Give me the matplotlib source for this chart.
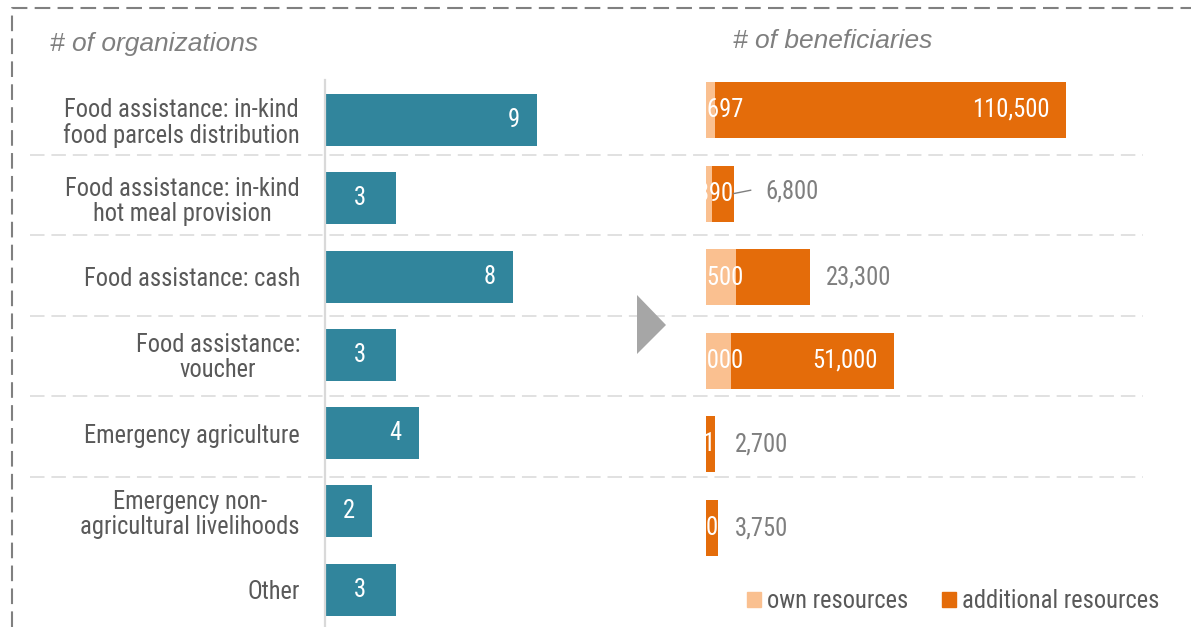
import os
import matplotlib
matplotlib.use('Agg')
import matplotlib.pyplot as plt
from matplotlib import font_manager
from matplotlib.font_manager import FontProperties
from matplotlib.patches import Polygon, Patch
from matplotlib.lines import Line2D

# ---------------- data ----------------
categories = [
    "Food assistance: in-kind\nfood parcels distribution",
    "Food assistance: in-kind\nhot meal provision",
    "Food assistance: cash",
    "Food assistance:\nvoucher",
    "Emergency agriculture",
    "Emergency non-\nagricultural livelihoods",
    "Other",
]
org_counts = [9, 3, 8, 3, 4, 2, 3]
own_resources = [2697, 1890, 9500, 8000, 1, 0]
additional_resources = [110500, 6800, 23300, 51000, 2700, 3750]
legend_labels = ["own resources", "additional resources"]
left_title = "# of organizations"
right_title = "# of beneficiaries"

# ---------------- style ----------------
TEAL = "#31859C"
ORANGE_DARK = "#E46C0A"
ORANGE_LIGHT = "#FAC090"
TXT = "#595959"
TXT_LIGHT = "#7F7F7F"
SEP = "#D9D9D9"

# pick a narrow / condensed sans font if one is installed
prefs = ["liberationsansnarrow-regular", "robotocondensed-regular",
         "notosans-condensed", "opensans_condensed-regular",
         "opensanscondensed-regular", "opensans-condensed",
         "dejavusanscondensed"]
found = {}
for f in font_manager.fontManager.ttflist:
    base = os.path.splitext(os.path.basename(f.fname))[0].lower()
    for p in prefs:
        if base == p and p not in found:
            found[p] = f.fname
fname = None
for p in prefs:
    if p in found:
        fname = found[p]
        break
if fname:
    base_fp = FontProperties(fname=fname)
else:
    base_fp = FontProperties(family="Liberation Sans")

W, H = 1191, 627
fig = plt.figure(figsize=(W / 100, H / 100), dpi=100)

# auto-fit font size so the label widths match the reference
renderer = fig.canvas.get_renderer()
probe_fp = base_fp.copy()
probe_fp.set_size(18)
probe = fig.text(0, 0, "Food assistance: in-kind", fontproperties=probe_fp)
wprobe = probe.get_window_extent(renderer).width
probe.remove()
FS = max(13.0, min(19.0, 18 * 235 / wprobe))


def fp(size=None):
    q = base_fp.copy()
    q.set_size(size if size else FS)
    return q


def fx(x):
    return x / W


def fy(y):
    return 1 - y / H


# ---------------- left panel ----------------
px_per_org = 23.56
ax1 = fig.add_axes([fx(325), fy(627), 236 / W, (627 - 80) / H])
rows1 = list(range(len(categories)))
ax1.barh(rows1, org_counts, height=0.664, color=TEAL)
ax1.set_xlim(0, 236 / px_per_org)
ax1.set_ylim(6.475, -0.51)
for s in ["top", "right", "bottom"]:
    ax1.spines[s].set_visible(False)
ax1.spines["left"].set_color(SEP)
ax1.spines["left"].set_linewidth(1.6)
ax1.set_xticks([])
ax1.set_yticks(rows1)
ax1.set_yticklabels(categories, color=TXT)
for t in ax1.get_yticklabels():
    t.set_fontproperties(fp())
    t.set_multialignment("center")
    t.set_linespacing(1.05)
ax1.tick_params(axis="y", length=0, pad=18)
ax1.patch.set_alpha(0)
for i, v in enumerate(org_counts):
    xl = v - 1 if v >= 4 else v / 2
    ax1.text(xl, i, str(v), ha="center", va="center", color="white",
             fontproperties=fp())

# ---------------- right panel ----------------
px_per_ben = 360 / (own_resources[0] + additional_resources[0])
k = 1 / px_per_ben  # data units per pixel
ax2 = fig.add_axes([fx(706), fy(570), 444 / W, 500 / H])
rows2 = list(range(len(own_resources)))
ax2.barh(rows2, own_resources, height=0.67, color=ORANGE_LIGHT)
ax2.barh(rows2, additional_resources, left=own_resources, height=0.67,
         color=ORANGE_DARK)
ax2.set_xlim(0, 444 * k)
ax2.set_ylim(5.502, -0.478)
ax2.axis("off")

leader = [False, True, False, False, False, False]
for i, (o, a) in enumerate(zip(own_resources, additional_resources)):
    total = o + a
    t = ax2.text(min(total, 12000), i, f"{o:,}", ha="right", va="center",
                 color="white", fontproperties=fp())
    t.set_clip_on(True)
    t.set_clip_box(ax2.bbox)
    if total >= 40000:
        ax2.annotate(f"{a:,}", (total, i), xytext=(-16 * 0.72, 0),
                     textcoords="offset points", ha="right", va="center",
                     color="white", fontproperties=fp())
    elif leader[i]:
        ax2.plot([total, total + 17 * k], [i, i - 0.04], color=TXT_LIGHT, lw=1)
        ax2.text(total + 32 * k, i - 0.03, f"{a:,}", ha="left", va="center",
                 color=TXT_LIGHT, fontproperties=fp())
    else:
        ax2.text(max(total + 16 * k, 29 * k), i, f"{a:,}", ha="left",
                 va="center", color=TXT_LIGHT, fontproperties=fp())

# ---------------- decorations ----------------
for ypx in [155, 235, 316, 396, 477]:
    fig.add_artist(Line2D([fx(30), fx(1143)], [fy(ypx), fy(ypx)],
                          transform=fig.transFigure, color=SEP, lw=1.1,
                          linestyle=(0, (9.5, 4.5)), zorder=0))

fig.add_artist(Line2D([fx(12), fx(12), fx(1191)], [fy(627), fy(8), fy(8)],
                      transform=fig.transFigure, color="#808080", lw=1.5,
                      linestyle=(0, (7.5, 3.5))))

fig.add_artist(Polygon([[fx(637), fy(295)], [fx(637), fy(354)],
                        [fx(666), fy(325)]],
                       closed=True, transform=fig.transFigure,
                       facecolor="#A6A6A6", edgecolor="none"))

fig.text(fx(50), fy(44), left_title, ha="left", va="center", style="italic",
         color=TXT_LIGHT, fontsize=19, family="Liberation Sans")
fig.text(fx(733), fy(41), right_title, ha="left", va="center", style="italic",
         color=TXT_LIGHT, fontsize=19, family="Liberation Sans")

handles = [Patch(color=ORANGE_LIGHT), Patch(color=ORANGE_DARK)]
fig.legend(handles, legend_labels, loc="center",
           bbox_to_anchor=(fx(953), fy(601)), ncol=2, frameon=False,
           handlelength=0.58, handleheight=0.58, handletextpad=0.25,
           columnspacing=1.35, prop=fp(), labelcolor=TXT,
           borderpad=0, borderaxespad=0)

fig.savefig("out.png", dpi=100)
